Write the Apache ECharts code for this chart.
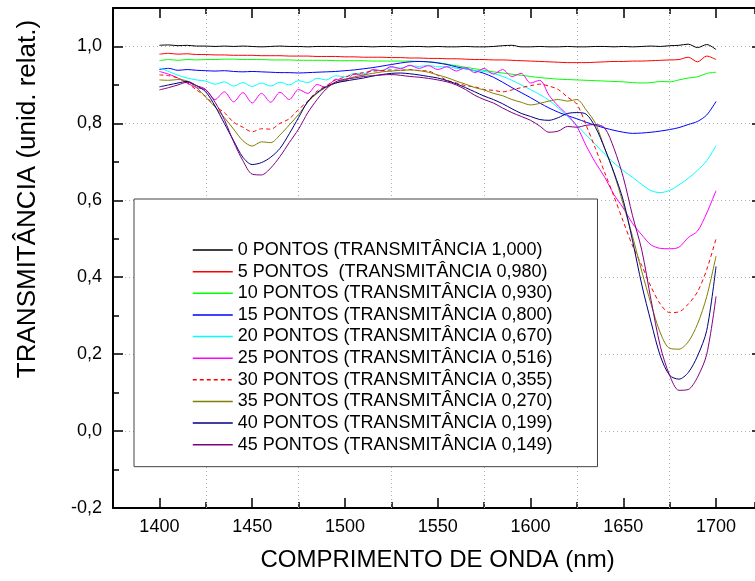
<!DOCTYPE html>
<html>
<head>
<meta charset="utf-8">
<script src="https://cdn.jsdelivr.net/npm/echarts@6/dist/echarts.min.js"></script>
<style>
  html, body { margin: 0; padding: 0; background: #fff; }
  #chart { width: 755px; height: 581px; }
</style>
</head>
<body>
<div id="chart"></div>
<script>
// Wavelength samples (nm)
const wavelength = [
  1400, 1405, 1410, 1415, 1420, 1425, 1430, 1435, 1440, 1445,
  1450, 1455, 1460, 1465, 1470, 1475, 1480, 1485, 1490, 1495,
  1500, 1505, 1510, 1515, 1520, 1525, 1530, 1535, 1540, 1545,
  1550, 1555, 1560, 1565, 1570, 1575, 1580, 1585, 1590, 1595,
  1600, 1605, 1610, 1615, 1620, 1625, 1630, 1635, 1640, 1645,
  1650, 1655, 1660, 1665, 1670, 1675, 1680, 1685, 1690, 1695,
  1700
];

// Relative transmittance for each number of grating points
const t0 = [
  1.003, 1.004, 1.002, 1.003, 1.001, 1.001, 1.000, 1.001, 1.000, 1.001,
  1.000, 0.999, 1.000, 1.001, 1.000, 1.000, 0.999, 1.000, 1.000, 1.000,
  0.999, 1.000, 1.000, 0.999, 1.000, 1.000, 0.999, 1.000, 1.000, 0.999,
  1.000, 0.999, 0.999, 1.000, 0.999, 0.999, 1.000, 1.002, 1.003, 0.999,
  0.999, 1.000, 0.999, 0.999, 1.000, 0.999, 0.999, 1.000, 1.000, 0.999,
  1.000, 0.999, 1.000, 1.001, 1.000, 1.002, 1.003, 1.006, 0.997, 1.005,
  0.992
];
const t5 = [
  0.980, 0.982, 0.980, 0.981, 0.979, 0.979, 0.978, 0.978, 0.977, 0.977,
  0.977, 0.976, 0.976, 0.976, 0.975, 0.975, 0.975, 0.974, 0.974, 0.974,
  0.973, 0.973, 0.972, 0.972, 0.972, 0.971, 0.971, 0.970, 0.970, 0.969,
  0.969, 0.968, 0.968, 0.967, 0.966, 0.966, 0.965, 0.965, 0.964, 0.963,
  0.962, 0.961, 0.960, 0.959, 0.958, 0.958, 0.958, 0.959, 0.960, 0.961,
  0.961, 0.962, 0.962, 0.963, 0.964, 0.965, 0.966, 0.972, 0.960, 0.975,
  0.966
];
const t10 = [
  0.963, 0.966, 0.964, 0.966, 0.965, 0.966, 0.966, 0.967, 0.967, 0.966,
  0.966, 0.966, 0.965, 0.965, 0.965, 0.964, 0.964, 0.964, 0.964, 0.963,
  0.963, 0.963, 0.963, 0.962, 0.962, 0.962, 0.962, 0.962, 0.961, 0.960,
  0.958, 0.954, 0.950, 0.946, 0.942, 0.938, 0.934, 0.931, 0.928, 0.925,
  0.922, 0.919, 0.917, 0.915, 0.914, 0.913, 0.912, 0.911, 0.910, 0.909,
  0.908, 0.906, 0.905, 0.906, 0.909, 0.908, 0.913, 0.918, 0.921, 0.930,
  0.933
];
const t15 = [
  0.940, 0.943, 0.938, 0.940, 0.938, 0.937, 0.936, 0.937, 0.935, 0.934,
  0.935, 0.934, 0.933, 0.932, 0.932, 0.931, 0.932, 0.933, 0.934, 0.935,
  0.937, 0.939, 0.942, 0.945, 0.949, 0.953, 0.957, 0.960, 0.961, 0.960,
  0.957, 0.953, 0.947, 0.942, 0.937, 0.930, 0.920, 0.907, 0.893, 0.880,
  0.867, 0.853, 0.840, 0.829, 0.820, 0.812, 0.803, 0.795, 0.788, 0.782,
  0.777, 0.774, 0.775, 0.777, 0.780, 0.784, 0.789, 0.797, 0.805, 0.822,
  0.857
];
const t20 = [
  0.944, 0.935, 0.925, 0.918, 0.913, 0.910, 0.902, 0.908, 0.897, 0.906,
  0.896, 0.905, 0.897, 0.907, 0.900, 0.911, 0.906, 0.917, 0.913, 0.924,
  0.921, 0.930, 0.929, 0.938, 0.938, 0.945, 0.944, 0.950, 0.948, 0.951,
  0.947, 0.948, 0.943, 0.942, 0.937, 0.935, 0.930, 0.922, 0.912, 0.900,
  0.888, 0.875, 0.860, 0.840, 0.818, 0.795, 0.770, 0.745, 0.720, 0.697,
  0.677, 0.660, 0.641, 0.625, 0.620, 0.626, 0.640, 0.657, 0.678, 0.703,
  0.742
];
const t25 = [
  0.935, 0.928, 0.918, 0.905, 0.893, 0.887, 0.862, 0.882, 0.856, 0.880,
  0.853, 0.878, 0.855, 0.881, 0.862, 0.888, 0.878, 0.901, 0.893, 0.915,
  0.910, 0.928, 0.925, 0.940, 0.937, 0.948, 0.942, 0.951, 0.943, 0.950,
  0.940, 0.947, 0.936, 0.945, 0.932, 0.943, 0.928, 0.940, 0.922, 0.930,
  0.905, 0.912, 0.873, 0.845, 0.822, 0.792, 0.742, 0.698, 0.660, 0.615,
  0.580, 0.540, 0.510, 0.484, 0.475, 0.474, 0.478, 0.503, 0.520, 0.567,
  0.625
];
const t30 = [
  0.926, 0.924, 0.918, 0.905, 0.887, 0.870, 0.845, 0.828, 0.803, 0.790,
  0.778, 0.786, 0.785, 0.800, 0.812, 0.836, 0.858, 0.884, 0.898, 0.913,
  0.920, 0.928, 0.932, 0.936, 0.937, 0.939, 0.938, 0.940, 0.937, 0.936,
  0.925, 0.912, 0.905, 0.898, 0.895, 0.888, 0.886, 0.882, 0.887, 0.893,
  0.898, 0.902, 0.897, 0.888, 0.868, 0.850, 0.795, 0.735, 0.672, 0.610,
  0.545, 0.482, 0.430, 0.375, 0.330, 0.308, 0.310, 0.330, 0.362, 0.420,
  0.500
];
const t35 = [
  0.913, 0.912, 0.914, 0.910, 0.893, 0.868, 0.843, 0.815, 0.785, 0.755,
  0.741, 0.752, 0.750, 0.770, 0.796, 0.823, 0.855, 0.878, 0.894, 0.905,
  0.913, 0.921, 0.926, 0.930, 0.934, 0.936, 0.938, 0.939, 0.937, 0.933,
  0.926, 0.919, 0.910, 0.902, 0.893, 0.887, 0.878, 0.872, 0.862, 0.855,
  0.848, 0.852, 0.858, 0.862, 0.858, 0.862, 0.835, 0.800, 0.735, 0.670,
  0.590, 0.506, 0.415, 0.330, 0.255, 0.215, 0.213, 0.232, 0.278, 0.350,
  0.455
];
const t40 = [
  0.895, 0.900, 0.905, 0.909, 0.898, 0.882, 0.845, 0.800, 0.755, 0.712,
  0.693, 0.698, 0.712, 0.735, 0.773, 0.815, 0.857, 0.880, 0.896, 0.905,
  0.910, 0.914, 0.918, 0.923, 0.927, 0.930, 0.931, 0.929, 0.926, 0.922,
  0.918, 0.911, 0.903, 0.893, 0.882, 0.871, 0.862, 0.851, 0.838, 0.826,
  0.818, 0.810, 0.808, 0.815, 0.826, 0.828, 0.824, 0.790, 0.735, 0.672,
  0.600, 0.495, 0.380, 0.283, 0.195, 0.145, 0.135, 0.152, 0.195, 0.262,
  0.428
];
const t45 = [
  0.887, 0.893, 0.900, 0.907, 0.898, 0.888, 0.855, 0.810, 0.752, 0.703,
  0.668, 0.666, 0.684, 0.714, 0.750, 0.785, 0.828, 0.862, 0.890, 0.908,
  0.915, 0.918, 0.922, 0.924, 0.926, 0.927, 0.925, 0.922, 0.920, 0.917,
  0.913, 0.908, 0.900, 0.888, 0.873, 0.862, 0.853, 0.840, 0.828, 0.818,
  0.808, 0.793, 0.777, 0.780, 0.792, 0.790, 0.795, 0.797, 0.788, 0.735,
  0.660, 0.560, 0.470, 0.340, 0.220, 0.145, 0.106, 0.108, 0.140, 0.200,
  0.350
];

const seriesNames = [
  '0 PONTOS (TRANSMITÂNCIA 1,000)',
  '5 PONTOS  (TRANSMITÂNCIA 0,980)',
  '10 PONTOS (TRANSMITÂNCIA 0,930)',
  '15 PONTOS (TRANSMITÂNCIA 0,800)',
  '20 PONTOS (TRANSMITÂNCIA 0,670)',
  '25 PONTOS (TRANSMITÂNCIA 0,516)',
  '30 PONTOS (TRANSMITÂNCIA 0,355)',
  '35 PONTOS (TRANSMITÂNCIA 0,270)',
  '40 PONTOS (TRANSMITÂNCIA 0,199)',
  '45 PONTOS (TRANSMITÂNCIA 0,149)'
];
const seriesValues = [t0, t5, t10, t15, t20, t25, t30, t35, t40, t45];
const seriesColors = ['#000000', '#ff0000', '#00ff00', '#0000ff', '#00ffff',
                      '#ff00ff', '#ff0000', '#808000', '#000080', '#800080'];
const seriesDash = [false, false, false, false, false, false, true, false, false, false];

// Axis ticks
const xMajorTicks = [1400, 1450, 1500, 1550, 1600, 1650, 1700];
const xGridLines = [1425, 1475, 1525, 1575, 1625, 1675];

const FONT = "'Liberation Sans', Arial, Helvetica, sans-serif";
// The frame runs past the right edge of the page, so the visible x range stops near 1721 nm
const X_MIN = 1375, X_MAX = 1721, Y_MIN = -0.2, Y_MAX = 1.1;

const chart = echarts.init(document.getElementById('chart'), null, { renderer: 'canvas' });

function xAxisDef(pos, major, withLabels) {
  const a = {
    type: 'value', gridIndex: 0, position: pos, min: X_MIN, max: X_MAX,
    axisLine: { show: major, onZero: false, lineStyle: { color: '#000', width: 2 } },
    axisTick: { show: true, inside: true, length: major ? 10 : 6, lineStyle: { color: '#000', width: 1.5 } },
    axisLabel: { show: false },
    splitLine: { show: false }
  };
  if (major) {
    a.axisTick.customValues = xMajorTicks;
    a.axisLabel = withLabels
      ? { show: true, customValues: xMajorTicks, color: '#000', fontFamily: FONT, fontSize: 18, margin: 10,
          formatter: v => String(v) }
      : { show: false };
  } else {
    a.interval = 25;
  }
  return a;
}

function yAxisDef(pos, major, withLabels) {
  return {
    type: 'value', gridIndex: 0, position: pos, min: Y_MIN, max: Y_MAX,
    interval: major ? 0.2 : 0.1,
    axisLine: { show: major, onZero: false, lineStyle: { color: '#000', width: 2 } },
    axisTick: { show: true, inside: true, length: major ? 10 : 6, lineStyle: { color: '#000', width: 1.5 } },
    axisLabel: withLabels ? {
      show: true, color: '#000', fontFamily: FONT, fontSize: 18, margin: 11,
      showMaxLabel: false,
      formatter: v => v.toFixed(1).replace('.', ',')
    } : { show: false },
    splitLine: (major && withLabels) ? {
      show: true, lineStyle: { color: '#b0b0b0', width: 1, type: [1, 3] }
    } : { show: false }
  };
}

const xAxes = [
  xAxisDef('bottom', true, true),
  xAxisDef('bottom', false, false),
  xAxisDef('top', true, false),
  xAxisDef('top', false, false)
];
xAxes[0].name = 'COMPRIMENTO DE ONDA (nm)';
xAxes[0].nameLocation = 'middle';
xAxes[0].nameGap = 40;
xAxes[0].nameTextStyle = { color: '#000', fontFamily: FONT, fontSize: 24, padding: [0, 0, 0, 7] };

// Right frame edge lies just outside the page: only the tips of its major ticks show
const rightAxis = {
  type: 'value', gridIndex: 0, position: 'right', min: Y_MIN, max: Y_MAX, interval: 0.2,
  axisLine: { show: false },
  axisTick: { show: true, inside: true, length: 3, lineStyle: { color: '#000', width: 1.5 } },
  axisLabel: { show: false },
  splitLine: { show: false }
};

const yAxes = [
  yAxisDef('left', true, true),
  yAxisDef('left', false, false),
  rightAxis
];
// Title sits above the axis midpoint; left padding lifts the rotated text
yAxes[0].name = 'TRANSMITÂNCIA (unid. relat.)';
yAxes[0].nameLocation = 'middle';
yAxes[0].nameRotate = 90;
yAxes[0].nameGap = 72;
yAxes[0].nameTextStyle = { color: '#000', fontFamily: FONT, fontSize: 26, padding: [0, 0, 0, 118] };

const series = seriesValues.map((vals, k) => ({
  name: seriesNames[k],
  type: 'line',
  xAxisIndex: 0,
  yAxisIndex: 0,
  data: wavelength.map((w, i) => [w, vals[i]]),
  symbol: 'none',
  smooth: 0.3,
  color: seriesColors[k],
  lineStyle: { width: 1, color: seriesColors[k], type: seriesDash[k] ? [4, 3] : 'solid' },
  emphasis: { disabled: true },
  silent: true,
  z: 3
}));

// Vertical dotted grid lines between the labelled wavelengths
series.unshift({
  type: 'line',
  xAxisIndex: 0,
  yAxisIndex: 0,
  data: [],
  silent: true,
  markLine: {
    z: 1,
    silent: true,
    symbol: ['none', 'none'],
    label: { show: false },
    lineStyle: { color: '#b0b0b0', width: 1, type: [1, 3] },
    emphasis: { disabled: true },
    data: xGridLines.map(v => ({ xAxis: v }))
  }
});

chart.setOption({
  animation: false,
  backgroundColor: '#ffffff',
  grid: { left: 113, right: 0, top: 8, bottom: 73, containLabel: false },
  xAxis: xAxes,
  yAxis: yAxes,
  legend: {
    orient: 'vertical',
    left: 134,
    top: 199,
    data: seriesNames,
    padding: [42, 45, 13, 58],
    itemWidth: 40,
    itemHeight: 18,
    itemGap: 3.63,
    backgroundColor: '#ffffff',
    borderColor: '#444444',
    borderWidth: 1,
    borderRadius: 0,
    selectedMode: false,
    itemStyle: { opacity: 0 },
    lineStyle: { width: 1.5 },
    textStyle: { color: '#000', fontFamily: FONT, fontSize: 18, lineHeight: 18 }
  },
  series: series
});
</script>
</body>
</html>
